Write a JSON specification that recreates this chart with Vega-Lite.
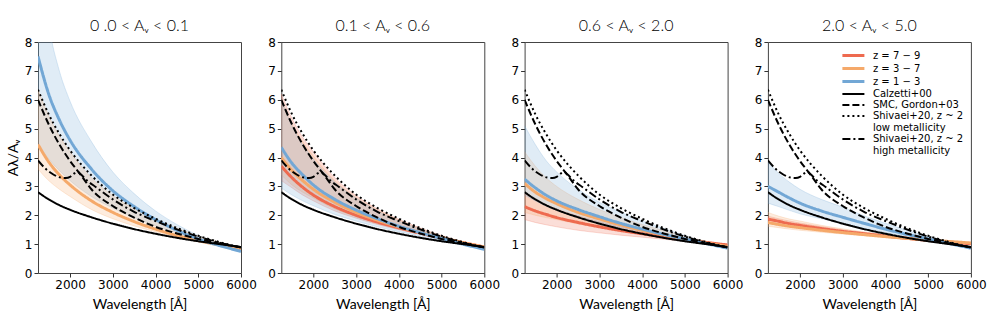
{
"$schema": "https://vega.github.io/schema/vega-lite/v6.json",
"padding": {"top": 17, "left": 5, "right": 5, "bottom": 5},
"datasets": {
"bands": [
{"panel":"p1","series":"z = 1 − 3","x":1250,"lo":4.45,"hi":11.5},
{"panel":"p1","series":"z = 1 − 3","x":1500,"lo":3.95,"hi":8.6},
{"panel":"p1","series":"z = 1 − 3","x":1750,"lo":3.55,"hi":7.0},
{"panel":"p1","series":"z = 1 − 3","x":2000,"lo":3.2,"hi":5.95},
{"panel":"p1","series":"z = 1 − 3","x":2500,"lo":2.65,"hi":4.55},
{"panel":"p1","series":"z = 1 − 3","x":3000,"lo":2.25,"hi":3.5},
{"panel":"p1","series":"z = 1 − 3","x":3500,"lo":1.92,"hi":2.75},
{"panel":"p1","series":"z = 1 − 3","x":4000,"lo":1.64,"hi":2.15},
{"panel":"p1","series":"z = 1 − 3","x":4500,"lo":1.38,"hi":1.68},
{"panel":"p1","series":"z = 1 − 3","x":5000,"lo":1.12,"hi":1.3},
{"panel":"p1","series":"z = 1 − 3","x":5500,"lo":0.92,"hi":1.02},
{"panel":"p1","series":"z = 1 − 3","x":6000,"lo":0.72,"hi":0.8},
{"panel":"p1","series":"z = 3 − 7","x":1250,"lo":3.6,"hi":6.35},
{"panel":"p1","series":"z = 3 − 7","x":1500,"lo":3.2,"hi":5.45},
{"panel":"p1","series":"z = 3 − 7","x":1750,"lo":2.9,"hi":4.75},
{"panel":"p1","series":"z = 3 − 7","x":2000,"lo":2.65,"hi":4.2},
{"panel":"p1","series":"z = 3 − 7","x":2500,"lo":2.2,"hi":3.3},
{"panel":"p1","series":"z = 3 − 7","x":3000,"lo":1.88,"hi":2.68},
{"panel":"p1","series":"z = 3 − 7","x":3500,"lo":1.63,"hi":2.22},
{"panel":"p1","series":"z = 3 − 7","x":4000,"lo":1.43,"hi":1.86},
{"panel":"p1","series":"z = 3 − 7","x":4500,"lo":1.25,"hi":1.55},
{"panel":"p1","series":"z = 3 − 7","x":5000,"lo":1.09,"hi":1.28},
{"panel":"p1","series":"z = 3 − 7","x":5500,"lo":0.95,"hi":1.06},
{"panel":"p1","series":"z = 3 − 7","x":6000,"lo":0.8,"hi":0.87},

{"panel":"p2","series":"z = 7 − 9","x":1250,"lo":3.2,"hi":6.2},
{"panel":"p2","series":"z = 7 − 9","x":1500,"lo":2.95,"hi":5.35},
{"panel":"p2","series":"z = 7 − 9","x":1750,"lo":2.7,"hi":4.7},
{"panel":"p2","series":"z = 7 − 9","x":2000,"lo":2.5,"hi":4.2},
{"panel":"p2","series":"z = 7 − 9","x":2500,"lo":2.15,"hi":3.3},
{"panel":"p2","series":"z = 7 − 9","x":3000,"lo":1.9,"hi":2.68},
{"panel":"p2","series":"z = 7 − 9","x":3500,"lo":1.68,"hi":2.22},
{"panel":"p2","series":"z = 7 − 9","x":4000,"lo":1.5,"hi":1.86},
{"panel":"p2","series":"z = 7 − 9","x":4500,"lo":1.34,"hi":1.56},
{"panel":"p2","series":"z = 7 − 9","x":5000,"lo":1.18,"hi":1.3},
{"panel":"p2","series":"z = 7 − 9","x":5500,"lo":1.03,"hi":1.08},
{"panel":"p2","series":"z = 7 − 9","x":6000,"lo":0.88,"hi":0.91},
{"panel":"p2","series":"z = 3 − 7","x":1250,"lo":3.4,"hi":6.0},
{"panel":"p2","series":"z = 3 − 7","x":1500,"lo":3.05,"hi":5.15},
{"panel":"p2","series":"z = 3 − 7","x":1750,"lo":2.8,"hi":4.55},
{"panel":"p2","series":"z = 3 − 7","x":2000,"lo":2.6,"hi":4.05},
{"panel":"p2","series":"z = 3 − 7","x":2500,"lo":2.22,"hi":3.2},
{"panel":"p2","series":"z = 3 − 7","x":3000,"lo":1.95,"hi":2.62},
{"panel":"p2","series":"z = 3 − 7","x":3500,"lo":1.72,"hi":2.18},
{"panel":"p2","series":"z = 3 − 7","x":4000,"lo":1.53,"hi":1.83},
{"panel":"p2","series":"z = 3 − 7","x":4500,"lo":1.36,"hi":1.54},
{"panel":"p2","series":"z = 3 − 7","x":5000,"lo":1.19,"hi":1.29},
{"panel":"p2","series":"z = 3 − 7","x":5500,"lo":1.04,"hi":1.08},
{"panel":"p2","series":"z = 3 − 7","x":6000,"lo":0.88,"hi":0.9},
{"panel":"p2","series":"z = 1 − 3","x":1250,"lo":2.95,"hi":6.0},
{"panel":"p2","series":"z = 1 − 3","x":1500,"lo":2.7,"hi":5.1},
{"panel":"p2","series":"z = 1 − 3","x":1750,"lo":2.5,"hi":4.45},
{"panel":"p2","series":"z = 1 − 3","x":2000,"lo":2.33,"hi":3.95},
{"panel":"p2","series":"z = 1 − 3","x":2500,"lo":2.03,"hi":3.15},
{"panel":"p2","series":"z = 1 − 3","x":3000,"lo":1.8,"hi":2.6},
{"panel":"p2","series":"z = 1 − 3","x":3500,"lo":1.6,"hi":2.15},
{"panel":"p2","series":"z = 1 − 3","x":4000,"lo":1.43,"hi":1.8},
{"panel":"p2","series":"z = 1 − 3","x":4500,"lo":1.28,"hi":1.52},
{"panel":"p2","series":"z = 1 − 3","x":5000,"lo":1.13,"hi":1.27},
{"panel":"p2","series":"z = 1 − 3","x":5500,"lo":0.98,"hi":1.03},
{"panel":"p2","series":"z = 1 − 3","x":6000,"lo":0.8,"hi":0.85},

{"panel":"p3","series":"z = 7 − 9","x":1250,"lo":1.85,"hi":2.75},
{"panel":"p3","series":"z = 7 − 9","x":1500,"lo":1.75,"hi":2.55},
{"panel":"p3","series":"z = 7 − 9","x":1750,"lo":1.67,"hi":2.37},
{"panel":"p3","series":"z = 7 − 9","x":2000,"lo":1.6,"hi":2.22},
{"panel":"p3","series":"z = 7 − 9","x":2500,"lo":1.48,"hi":1.98},
{"panel":"p3","series":"z = 7 − 9","x":3000,"lo":1.39,"hi":1.78},
{"panel":"p3","series":"z = 7 − 9","x":3500,"lo":1.31,"hi":1.6},
{"panel":"p3","series":"z = 7 − 9","x":4000,"lo":1.24,"hi":1.46},
{"panel":"p3","series":"z = 7 − 9","x":4500,"lo":1.17,"hi":1.33},
{"panel":"p3","series":"z = 7 − 9","x":5000,"lo":1.1,"hi":1.2},
{"panel":"p3","series":"z = 7 − 9","x":5500,"lo":1.03,"hi":1.08},
{"panel":"p3","series":"z = 7 − 9","x":6000,"lo":0.95,"hi":0.99},
{"panel":"p3","series":"z = 3 − 7","x":1250,"lo":2.1,"hi":4.2},
{"panel":"p3","series":"z = 3 − 7","x":1500,"lo":2.0,"hi":3.7},
{"panel":"p3","series":"z = 3 − 7","x":1750,"lo":1.92,"hi":3.3},
{"panel":"p3","series":"z = 3 − 7","x":2000,"lo":1.85,"hi":3.0},
{"panel":"p3","series":"z = 3 − 7","x":2500,"lo":1.7,"hi":2.55},
{"panel":"p3","series":"z = 3 − 7","x":3000,"lo":1.58,"hi":2.2},
{"panel":"p3","series":"z = 3 − 7","x":3500,"lo":1.46,"hi":1.92},
{"panel":"p3","series":"z = 3 − 7","x":4000,"lo":1.35,"hi":1.68},
{"panel":"p3","series":"z = 3 − 7","x":4500,"lo":1.24,"hi":1.47},
{"panel":"p3","series":"z = 3 − 7","x":5000,"lo":1.13,"hi":1.28},
{"panel":"p3","series":"z = 3 − 7","x":5500,"lo":1.03,"hi":1.1},
{"panel":"p3","series":"z = 3 − 7","x":6000,"lo":0.92,"hi":0.96},
{"panel":"p3","series":"z = 1 − 3","x":1250,"lo":2.7,"hi":5.1},
{"panel":"p3","series":"z = 1 − 3","x":1500,"lo":2.5,"hi":4.45},
{"panel":"p3","series":"z = 1 − 3","x":1750,"lo":2.32,"hi":3.9},
{"panel":"p3","series":"z = 1 − 3","x":2000,"lo":2.17,"hi":3.5},
{"panel":"p3","series":"z = 1 − 3","x":2500,"lo":1.93,"hi":2.9},
{"panel":"p3","series":"z = 1 − 3","x":3000,"lo":1.75,"hi":2.45},
{"panel":"p3","series":"z = 1 − 3","x":3500,"lo":1.57,"hi":2.1},
{"panel":"p3","series":"z = 1 − 3","x":4000,"lo":1.42,"hi":1.8},
{"panel":"p3","series":"z = 1 − 3","x":4500,"lo":1.28,"hi":1.55},
{"panel":"p3","series":"z = 1 − 3","x":5000,"lo":1.14,"hi":1.3},
{"panel":"p3","series":"z = 1 − 3","x":5500,"lo":1.0,"hi":1.08},
{"panel":"p3","series":"z = 1 − 3","x":6000,"lo":0.84,"hi":0.88},

{"panel":"p4","series":"z = 7 − 9","x":1250,"lo":1.72,"hi":1.97},
{"panel":"p4","series":"z = 7 − 9","x":1500,"lo":1.66,"hi":1.88},
{"panel":"p4","series":"z = 7 − 9","x":1750,"lo":1.6,"hi":1.8},
{"panel":"p4","series":"z = 7 − 9","x":2000,"lo":1.55,"hi":1.73},
{"panel":"p4","series":"z = 7 − 9","x":2500,"lo":1.46,"hi":1.61},
{"panel":"p4","series":"z = 7 − 9","x":3000,"lo":1.38,"hi":1.5},
{"panel":"p4","series":"z = 7 − 9","x":3500,"lo":1.31,"hi":1.41},
{"panel":"p4","series":"z = 7 − 9","x":4000,"lo":1.24,"hi":1.32},
{"panel":"p4","series":"z = 7 − 9","x":4500,"lo":1.17,"hi":1.23},
{"panel":"p4","series":"z = 7 − 9","x":5000,"lo":1.11,"hi":1.16},
{"panel":"p4","series":"z = 7 − 9","x":5500,"lo":1.05,"hi":1.09},
{"panel":"p4","series":"z = 7 − 9","x":6000,"lo":0.99,"hi":1.03},
{"panel":"p4","series":"z = 3 − 7","x":1250,"lo":1.62,"hi":2.1},
{"panel":"p4","series":"z = 3 − 7","x":1500,"lo":1.57,"hi":1.97},
{"panel":"p4","series":"z = 3 − 7","x":1750,"lo":1.52,"hi":1.87},
{"panel":"p4","series":"z = 3 − 7","x":2000,"lo":1.48,"hi":1.8},
{"panel":"p4","series":"z = 3 − 7","x":2500,"lo":1.41,"hi":1.65},
{"panel":"p4","series":"z = 3 − 7","x":3000,"lo":1.35,"hi":1.53},
{"panel":"p4","series":"z = 3 − 7","x":3500,"lo":1.29,"hi":1.42},
{"panel":"p4","series":"z = 3 − 7","x":4000,"lo":1.23,"hi":1.33},
{"panel":"p4","series":"z = 3 − 7","x":4500,"lo":1.17,"hi":1.25},
{"panel":"p4","series":"z = 3 − 7","x":5000,"lo":1.11,"hi":1.18},
{"panel":"p4","series":"z = 3 − 7","x":5500,"lo":1.06,"hi":1.12},
{"panel":"p4","series":"z = 3 − 7","x":6000,"lo":1.01,"hi":1.07},
{"panel":"p4","series":"z = 1 − 3","x":1250,"lo":2.42,"hi":3.85},
{"panel":"p4","series":"z = 1 − 3","x":1500,"lo":2.3,"hi":3.45},
{"panel":"p4","series":"z = 1 − 3","x":1750,"lo":2.17,"hi":3.15},
{"panel":"p4","series":"z = 1 − 3","x":2000,"lo":2.05,"hi":2.9},
{"panel":"p4","series":"z = 1 − 3","x":2500,"lo":1.88,"hi":2.55},
{"panel":"p4","series":"z = 1 − 3","x":3000,"lo":1.72,"hi":2.28},
{"panel":"p4","series":"z = 1 − 3","x":3500,"lo":1.55,"hi":1.98},
{"panel":"p4","series":"z = 1 − 3","x":4000,"lo":1.4,"hi":1.72},
{"panel":"p4","series":"z = 1 − 3","x":4500,"lo":1.27,"hi":1.48},
{"panel":"p4","series":"z = 1 − 3","x":5000,"lo":1.13,"hi":1.26},
{"panel":"p4","series":"z = 1 − 3","x":5500,"lo":0.99,"hi":1.06},
{"panel":"p4","series":"z = 1 − 3","x":6000,"lo":0.84,"hi":0.88}
],
"lines": [
{"panel":"p1","series":"z = 3 − 7","x":1250,"y":4.45},
{"panel":"p1","series":"z = 3 − 7","x":1500,"y":3.85},
{"panel":"p1","series":"z = 3 − 7","x":1750,"y":3.4},
{"panel":"p1","series":"z = 3 − 7","x":2000,"y":3.05},
{"panel":"p1","series":"z = 3 − 7","x":2500,"y":2.5},
{"panel":"p1","series":"z = 3 − 7","x":3000,"y":2.1},
{"panel":"p1","series":"z = 3 − 7","x":3500,"y":1.78},
{"panel":"p1","series":"z = 3 − 7","x":4000,"y":1.52},
{"panel":"p1","series":"z = 3 − 7","x":4500,"y":1.3},
{"panel":"p1","series":"z = 3 − 7","x":5000,"y":1.12},
{"panel":"p1","series":"z = 3 − 7","x":5500,"y":0.97},
{"panel":"p1","series":"z = 3 − 7","x":6000,"y":0.83},
{"panel":"p1","series":"z = 1 − 3","x":1250,"y":7.5},
{"panel":"p1","series":"z = 1 − 3","x":1500,"y":6.2},
{"panel":"p1","series":"z = 1 − 3","x":1750,"y":5.3},
{"panel":"p1","series":"z = 1 − 3","x":2000,"y":4.6},
{"panel":"p1","series":"z = 1 − 3","x":2500,"y":3.6},
{"panel":"p1","series":"z = 1 − 3","x":3000,"y":2.85},
{"panel":"p1","series":"z = 1 − 3","x":3500,"y":2.3},
{"panel":"p1","series":"z = 1 − 3","x":4000,"y":1.85},
{"panel":"p1","series":"z = 1 − 3","x":4500,"y":1.48},
{"panel":"p1","series":"z = 1 − 3","x":5000,"y":1.18},
{"panel":"p1","series":"z = 1 − 3","x":5500,"y":0.95},
{"panel":"p1","series":"z = 1 − 3","x":6000,"y":0.75},

{"panel":"p2","series":"z = 7 − 9","x":1250,"y":3.7},
{"panel":"p2","series":"z = 7 − 9","x":1500,"y":3.3},
{"panel":"p2","series":"z = 7 − 9","x":1750,"y":2.97},
{"panel":"p2","series":"z = 7 − 9","x":2000,"y":2.7},
{"panel":"p2","series":"z = 7 − 9","x":2500,"y":2.3},
{"panel":"p2","series":"z = 7 − 9","x":3000,"y":2.0},
{"panel":"p2","series":"z = 7 − 9","x":3500,"y":1.76},
{"panel":"p2","series":"z = 7 − 9","x":4000,"y":1.56},
{"panel":"p2","series":"z = 7 − 9","x":4500,"y":1.38},
{"panel":"p2","series":"z = 7 − 9","x":5000,"y":1.21},
{"panel":"p2","series":"z = 7 − 9","x":5500,"y":1.05},
{"panel":"p2","series":"z = 7 − 9","x":6000,"y":0.9},
{"panel":"p2","series":"z = 3 − 7","x":1250,"y":4.0},
{"panel":"p2","series":"z = 3 − 7","x":1500,"y":3.55},
{"panel":"p2","series":"z = 3 − 7","x":1750,"y":3.2},
{"panel":"p2","series":"z = 3 − 7","x":2000,"y":2.9},
{"panel":"p2","series":"z = 3 − 7","x":2500,"y":2.45},
{"panel":"p2","series":"z = 3 − 7","x":3000,"y":2.1},
{"panel":"p2","series":"z = 3 − 7","x":3500,"y":1.83},
{"panel":"p2","series":"z = 3 − 7","x":4000,"y":1.6},
{"panel":"p2","series":"z = 3 − 7","x":4500,"y":1.4},
{"panel":"p2","series":"z = 3 − 7","x":5000,"y":1.22},
{"panel":"p2","series":"z = 3 − 7","x":5500,"y":1.05},
{"panel":"p2","series":"z = 3 − 7","x":6000,"y":0.9},
{"panel":"p2","series":"z = 1 − 3","x":1250,"y":4.35},
{"panel":"p2","series":"z = 1 − 3","x":1500,"y":3.8},
{"panel":"p2","series":"z = 1 − 3","x":1750,"y":3.4},
{"panel":"p2","series":"z = 1 − 3","x":2000,"y":3.05},
{"panel":"p2","series":"z = 1 − 3","x":2500,"y":2.55},
{"panel":"p2","series":"z = 1 − 3","x":3000,"y":2.18},
{"panel":"p2","series":"z = 1 − 3","x":3500,"y":1.88},
{"panel":"p2","series":"z = 1 − 3","x":4000,"y":1.62},
{"panel":"p2","series":"z = 1 − 3","x":4500,"y":1.4},
{"panel":"p2","series":"z = 1 − 3","x":5000,"y":1.2},
{"panel":"p2","series":"z = 1 − 3","x":5500,"y":1.0},
{"panel":"p2","series":"z = 1 − 3","x":6000,"y":0.82},

{"panel":"p3","series":"z = 7 − 9","x":1250,"y":2.3},
{"panel":"p3","series":"z = 7 − 9","x":1500,"y":2.15},
{"panel":"p3","series":"z = 7 − 9","x":1750,"y":2.03},
{"panel":"p3","series":"z = 7 − 9","x":2000,"y":1.92},
{"panel":"p3","series":"z = 7 − 9","x":2500,"y":1.75},
{"panel":"p3","series":"z = 7 − 9","x":3000,"y":1.6},
{"panel":"p3","series":"z = 7 − 9","x":3500,"y":1.47},
{"panel":"p3","series":"z = 7 − 9","x":4000,"y":1.36},
{"panel":"p3","series":"z = 7 − 9","x":4500,"y":1.25},
{"panel":"p3","series":"z = 7 − 9","x":5000,"y":1.15},
{"panel":"p3","series":"z = 7 − 9","x":5500,"y":1.06},
{"panel":"p3","series":"z = 7 − 9","x":6000,"y":0.97},
{"panel":"p3","series":"z = 3 − 7","x":1250,"y":3.1},
{"panel":"p3","series":"z = 3 − 7","x":1500,"y":2.8},
{"panel":"p3","series":"z = 3 − 7","x":1750,"y":2.58},
{"panel":"p3","series":"z = 3 − 7","x":2000,"y":2.4},
{"panel":"p3","series":"z = 3 − 7","x":2500,"y":2.1},
{"panel":"p3","series":"z = 3 − 7","x":3000,"y":1.87},
{"panel":"p3","series":"z = 3 − 7","x":3500,"y":1.66},
{"panel":"p3","series":"z = 3 − 7","x":4000,"y":1.48},
{"panel":"p3","series":"z = 3 − 7","x":4500,"y":1.32},
{"panel":"p3","series":"z = 3 − 7","x":5000,"y":1.17},
{"panel":"p3","series":"z = 3 − 7","x":5500,"y":1.04},
{"panel":"p3","series":"z = 3 − 7","x":6000,"y":0.92},
{"panel":"p3","series":"z = 1 − 3","x":1250,"y":3.25},
{"panel":"p3","series":"z = 1 − 3","x":1500,"y":2.95},
{"panel":"p3","series":"z = 1 − 3","x":1750,"y":2.7},
{"panel":"p3","series":"z = 1 − 3","x":2000,"y":2.5},
{"panel":"p3","series":"z = 1 − 3","x":2500,"y":2.2},
{"panel":"p3","series":"z = 1 − 3","x":3000,"y":1.95},
{"panel":"p3","series":"z = 1 − 3","x":3500,"y":1.72},
{"panel":"p3","series":"z = 1 − 3","x":4000,"y":1.52},
{"panel":"p3","series":"z = 1 − 3","x":4500,"y":1.34},
{"panel":"p3","series":"z = 1 − 3","x":5000,"y":1.18},
{"panel":"p3","series":"z = 1 − 3","x":5500,"y":1.02},
{"panel":"p3","series":"z = 1 − 3","x":6000,"y":0.86},

{"panel":"p4","series":"z = 7 − 9","x":1250,"y":1.87},
{"panel":"p4","series":"z = 7 − 9","x":1500,"y":1.79},
{"panel":"p4","series":"z = 7 − 9","x":1750,"y":1.71},
{"panel":"p4","series":"z = 7 − 9","x":2000,"y":1.65},
{"panel":"p4","series":"z = 7 − 9","x":2500,"y":1.54},
{"panel":"p4","series":"z = 7 − 9","x":3000,"y":1.44},
{"panel":"p4","series":"z = 7 − 9","x":3500,"y":1.36},
{"panel":"p4","series":"z = 7 − 9","x":4000,"y":1.28},
{"panel":"p4","series":"z = 7 − 9","x":4500,"y":1.2},
{"panel":"p4","series":"z = 7 − 9","x":5000,"y":1.13},
{"panel":"p4","series":"z = 7 − 9","x":5500,"y":1.07},
{"panel":"p4","series":"z = 7 − 9","x":6000,"y":1.01},
{"panel":"p4","series":"z = 3 − 7","x":1250,"y":1.75},
{"panel":"p4","series":"z = 3 − 7","x":1500,"y":1.68},
{"panel":"p4","series":"z = 3 − 7","x":1750,"y":1.62},
{"panel":"p4","series":"z = 3 − 7","x":2000,"y":1.57},
{"panel":"p4","series":"z = 3 − 7","x":2500,"y":1.48},
{"panel":"p4","series":"z = 3 − 7","x":3000,"y":1.4},
{"panel":"p4","series":"z = 3 − 7","x":3500,"y":1.33},
{"panel":"p4","series":"z = 3 − 7","x":4000,"y":1.26},
{"panel":"p4","series":"z = 3 − 7","x":4500,"y":1.2},
{"panel":"p4","series":"z = 3 − 7","x":5000,"y":1.14},
{"panel":"p4","series":"z = 3 − 7","x":5500,"y":1.09},
{"panel":"p4","series":"z = 3 − 7","x":6000,"y":1.04},
{"panel":"p4","series":"z = 1 − 3","x":1250,"y":3.0},
{"panel":"p4","series":"z = 1 − 3","x":1500,"y":2.8},
{"panel":"p4","series":"z = 1 − 3","x":1750,"y":2.6},
{"panel":"p4","series":"z = 1 − 3","x":2000,"y":2.42},
{"panel":"p4","series":"z = 1 − 3","x":2500,"y":2.15},
{"panel":"p4","series":"z = 1 − 3","x":3000,"y":1.93},
{"panel":"p4","series":"z = 1 − 3","x":3500,"y":1.72},
{"panel":"p4","series":"z = 1 − 3","x":4000,"y":1.52},
{"panel":"p4","series":"z = 1 − 3","x":4500,"y":1.34},
{"panel":"p4","series":"z = 1 − 3","x":5000,"y":1.18},
{"panel":"p4","series":"z = 1 − 3","x":5500,"y":1.02},
{"panel":"p4","series":"z = 1 − 3","x":6000,"y":0.86}
],
"ref": [
{"series":"Calzetti+00","x":1250,"y":2.8},
{"series":"Calzetti+00","x":1500,"y":2.55},
{"series":"Calzetti+00","x":1750,"y":2.35},
{"series":"Calzetti+00","x":2000,"y":2.19},
{"series":"Calzetti+00","x":2500,"y":1.93},
{"series":"Calzetti+00","x":3000,"y":1.71},
{"series":"Calzetti+00","x":3500,"y":1.52},
{"series":"Calzetti+00","x":4000,"y":1.36},
{"series":"Calzetti+00","x":4500,"y":1.22},
{"series":"Calzetti+00","x":5000,"y":1.1},
{"series":"Calzetti+00","x":5500,"y":1.0},
{"series":"Calzetti+00","x":6000,"y":0.9},
{"series":"SMC, Gordon+03","x":1250,"y":6.0},
{"series":"SMC, Gordon+03","x":1500,"y":5.15},
{"series":"SMC, Gordon+03","x":1750,"y":4.45},
{"series":"SMC, Gordon+03","x":2000,"y":3.88},
{"series":"SMC, Gordon+03","x":2250,"y":3.4},
{"series":"SMC, Gordon+03","x":2500,"y":2.9},
{"series":"SMC, Gordon+03","x":3000,"y":2.32},
{"series":"SMC, Gordon+03","x":3500,"y":1.92},
{"series":"SMC, Gordon+03","x":4000,"y":1.6},
{"series":"SMC, Gordon+03","x":4500,"y":1.37},
{"series":"SMC, Gordon+03","x":5000,"y":1.18},
{"series":"SMC, Gordon+03","x":5500,"y":1.02},
{"series":"SMC, Gordon+03","x":6000,"y":0.89},
{"series":"Shivaei+20, z ~ 2| low metallicity","x":1250,"y":6.35},
{"series":"Shivaei+20, z ~ 2| low metallicity","x":1500,"y":5.5},
{"series":"Shivaei+20, z ~ 2| low metallicity","x":1750,"y":4.82},
{"series":"Shivaei+20, z ~ 2| low metallicity","x":2000,"y":4.25},
{"series":"Shivaei+20, z ~ 2| low metallicity","x":2250,"y":3.78},
{"series":"Shivaei+20, z ~ 2| low metallicity","x":2500,"y":3.38},
{"series":"Shivaei+20, z ~ 2| low metallicity","x":3000,"y":2.72},
{"series":"Shivaei+20, z ~ 2| low metallicity","x":3500,"y":2.25},
{"series":"Shivaei+20, z ~ 2| low metallicity","x":4000,"y":1.88},
{"series":"Shivaei+20, z ~ 2| low metallicity","x":4500,"y":1.56},
{"series":"Shivaei+20, z ~ 2| low metallicity","x":5000,"y":1.29},
{"series":"Shivaei+20, z ~ 2| low metallicity","x":5500,"y":1.07},
{"series":"Shivaei+20, z ~ 2| low metallicity","x":6000,"y":0.88},
{"series":"Shivaei+20, z ~ 2| high metallicity","x":1250,"y":3.9},
{"series":"Shivaei+20, z ~ 2| high metallicity","x":1400,"y":3.65},
{"series":"Shivaei+20, z ~ 2| high metallicity","x":1600,"y":3.42},
{"series":"Shivaei+20, z ~ 2| high metallicity","x":1800,"y":3.3},
{"series":"Shivaei+20, z ~ 2| high metallicity","x":1900,"y":3.29},
{"series":"Shivaei+20, z ~ 2| high metallicity","x":2000,"y":3.33},
{"series":"Shivaei+20, z ~ 2| high metallicity","x":2100,"y":3.45},
{"series":"Shivaei+20, z ~ 2| high metallicity","x":2175,"y":3.5},
{"series":"Shivaei+20, z ~ 2| high metallicity","x":2250,"y":3.42},
{"series":"Shivaei+20, z ~ 2| high metallicity","x":2400,"y":3.2},
{"series":"Shivaei+20, z ~ 2| high metallicity","x":2600,"y":2.98},
{"series":"Shivaei+20, z ~ 2| high metallicity","x":3000,"y":2.55},
{"series":"Shivaei+20, z ~ 2| high metallicity","x":3500,"y":2.12},
{"series":"Shivaei+20, z ~ 2| high metallicity","x":4000,"y":1.8},
{"series":"Shivaei+20, z ~ 2| high metallicity","x":4500,"y":1.51},
{"series":"Shivaei+20, z ~ 2| high metallicity","x":5000,"y":1.26},
{"series":"Shivaei+20, z ~ 2| high metallicity","x":5500,"y":1.05},
{"series":"Shivaei+20, z ~ 2| high metallicity","x":6000,"y":0.88}
]
},
"hconcat": [
{"width":203,"height":231,"title":"0 .0 < Aᵥ < 0.1",
 "layer":[
  {"data":{"name":"bands"},"transform":[{"filter":"datum.panel == 'p1'"}],
   "mark":{"type":"area","fillOpacity":0.22,"strokeOpacity":0.3,"strokeWidth":0.8,"clip":true,"interpolate":"monotone"},
   "encoding":{
    "x":{"field":"x","type":"quantitative","scale":{"domain":[1250,6000],"nice":false,"zero":false},"axis":{"title":"Wavelength [Å]","values":[2000,3000,4000,5000,6000],"format":"d"}},
    "y":{"field":"lo","type":"quantitative","scale":{"domain":[0,8],"nice":false},"axis":{"title":"Aλ/Aᵥ","values":[0,1,2,3,4,5,6,7,8]}},
    "y2":{"field":"hi"},
    "fill":{"field":"series","type":"nominal","scale":{"domain":["z = 7 − 9","z = 3 − 7","z = 1 − 3"],"range":["#ee6a4f","#f5a96a","#72a7d5"]},"legend":null},
    "stroke":{"field":"series","type":"nominal","scale":{"domain":["z = 7 − 9","z = 3 − 7","z = 1 − 3"],"range":["#ee6a4f","#f5a96a","#72a7d5"]},"legend":null}}},
  {"data":{"name":"lines"},"transform":[{"filter":"datum.panel == 'p1'"}],
   "mark":{"type":"line","interpolate":"monotone","clip":true},
   "encoding":{
    "x":{"field":"x","type":"quantitative","scale":{"domain":[1250,6000],"nice":false,"zero":false},"axis":{"title":"Wavelength [Å]","values":[2000,3000,4000,5000,6000],"format":"d"}},
    "y":{"field":"y","type":"quantitative","scale":{"domain":[0,8],"nice":false},"axis":{"title":"Aλ/Aᵥ","values":[0,1,2,3,4,5,6,7,8]}},
    "color":{"field":"series","type":"nominal","scale":{"domain":["z = 7 − 9","z = 3 − 7","z = 1 − 3","Calzetti+00","SMC, Gordon+03","Shivaei+20, z ~ 2| low metallicity","Shivaei+20, z ~ 2| high metallicity"],"range":["#ee6a4f","#f5a96a","#72a7d5","#000000","#000000","#000000","#000000"]},"legend":null},
    "strokeDash":{"field":"series","type":"nominal","scale":{"domain":["z = 7 − 9","z = 3 − 7","z = 1 − 3","Calzetti+00","SMC, Gordon+03","Shivaei+20, z ~ 2| low metallicity","Shivaei+20, z ~ 2| high metallicity"],"range":[[1,0],[1,0],[1,0],[1,0],[7,3],[2,3],[8,3,2,3]]},"legend":null},
    "strokeWidth":{"field":"series","type":"ordinal","scale":{"type":"ordinal","domain":["z = 7 − 9","z = 3 − 7","z = 1 − 3","Calzetti+00","SMC, Gordon+03","Shivaei+20, z ~ 2| low metallicity","Shivaei+20, z ~ 2| high metallicity"],"range":[3,3,3,2,2,2,2]},"legend":null}}},
  {"data":{"name":"ref"},
   "mark":{"type":"line","interpolate":"monotone","clip":true},
   "encoding":{
    "x":{"field":"x","type":"quantitative","scale":{"domain":[1250,6000],"nice":false,"zero":false},"axis":{"title":"Wavelength [Å]","values":[2000,3000,4000,5000,6000],"format":"d"}},
    "y":{"field":"y","type":"quantitative","scale":{"domain":[0,8],"nice":false},"axis":{"title":"Aλ/Aᵥ","values":[0,1,2,3,4,5,6,7,8]}},
    "color":{"field":"series","type":"nominal","scale":{"domain":["z = 7 − 9","z = 3 − 7","z = 1 − 3","Calzetti+00","SMC, Gordon+03","Shivaei+20, z ~ 2| low metallicity","Shivaei+20, z ~ 2| high metallicity"],"range":["#ee6a4f","#f5a96a","#72a7d5","#000000","#000000","#000000","#000000"]},"legend":null},
    "strokeDash":{"field":"series","type":"nominal","scale":{"domain":["z = 7 − 9","z = 3 − 7","z = 1 − 3","Calzetti+00","SMC, Gordon+03","Shivaei+20, z ~ 2| low metallicity","Shivaei+20, z ~ 2| high metallicity"],"range":[[1,0],[1,0],[1,0],[1,0],[7,3],[2,3],[8,3,2,3]]},"legend":null},
    "strokeWidth":{"field":"series","type":"ordinal","scale":{"type":"ordinal","domain":["z = 7 − 9","z = 3 − 7","z = 1 − 3","Calzetti+00","SMC, Gordon+03","Shivaei+20, z ~ 2| low metallicity","Shivaei+20, z ~ 2| high metallicity"],"range":[3,3,3,2,2,2,2]},"legend":null}}}
 ]},
{"width":203,"height":231,"title":"0.1 < Aᵥ < 0.6",
 "layer":[
  {"data":{"name":"bands"},"transform":[{"filter":"datum.panel == 'p2'"}],
   "mark":{"type":"area","fillOpacity":0.22,"strokeOpacity":0.3,"strokeWidth":0.8,"clip":true,"interpolate":"monotone"},
   "encoding":{
    "x":{"field":"x","type":"quantitative","scale":{"domain":[1250,6000],"nice":false,"zero":false},"axis":{"title":"Wavelength [Å]","values":[2000,3000,4000,5000,6000],"format":"d"}},
    "y":{"field":"lo","type":"quantitative","scale":{"domain":[0,8],"nice":false},"axis":{"title":null,"values":[0,1,2,3,4,5,6,7,8]}},
    "y2":{"field":"hi"},
    "fill":{"field":"series","type":"nominal","scale":{"domain":["z = 7 − 9","z = 3 − 7","z = 1 − 3"],"range":["#ee6a4f","#f5a96a","#72a7d5"]},"legend":null},
    "stroke":{"field":"series","type":"nominal","scale":{"domain":["z = 7 − 9","z = 3 − 7","z = 1 − 3"],"range":["#ee6a4f","#f5a96a","#72a7d5"]},"legend":null}}},
  {"data":{"name":"lines"},"transform":[{"filter":"datum.panel == 'p2'"}],
   "mark":{"type":"line","interpolate":"monotone","clip":true},
   "encoding":{
    "x":{"field":"x","type":"quantitative","scale":{"domain":[1250,6000],"nice":false,"zero":false},"axis":{"title":"Wavelength [Å]","values":[2000,3000,4000,5000,6000],"format":"d"}},
    "y":{"field":"y","type":"quantitative","scale":{"domain":[0,8],"nice":false},"axis":{"title":null,"values":[0,1,2,3,4,5,6,7,8]}},
    "color":{"field":"series","type":"nominal","scale":{"domain":["z = 7 − 9","z = 3 − 7","z = 1 − 3","Calzetti+00","SMC, Gordon+03","Shivaei+20, z ~ 2| low metallicity","Shivaei+20, z ~ 2| high metallicity"],"range":["#ee6a4f","#f5a96a","#72a7d5","#000000","#000000","#000000","#000000"]},"legend":null},
    "strokeDash":{"field":"series","type":"nominal","scale":{"domain":["z = 7 − 9","z = 3 − 7","z = 1 − 3","Calzetti+00","SMC, Gordon+03","Shivaei+20, z ~ 2| low metallicity","Shivaei+20, z ~ 2| high metallicity"],"range":[[1,0],[1,0],[1,0],[1,0],[7,3],[2,3],[8,3,2,3]]},"legend":null},
    "strokeWidth":{"field":"series","type":"ordinal","scale":{"type":"ordinal","domain":["z = 7 − 9","z = 3 − 7","z = 1 − 3","Calzetti+00","SMC, Gordon+03","Shivaei+20, z ~ 2| low metallicity","Shivaei+20, z ~ 2| high metallicity"],"range":[3,3,3,2,2,2,2]},"legend":null}}},
  {"data":{"name":"ref"},
   "mark":{"type":"line","interpolate":"monotone","clip":true},
   "encoding":{
    "x":{"field":"x","type":"quantitative","scale":{"domain":[1250,6000],"nice":false,"zero":false},"axis":{"title":"Wavelength [Å]","values":[2000,3000,4000,5000,6000],"format":"d"}},
    "y":{"field":"y","type":"quantitative","scale":{"domain":[0,8],"nice":false},"axis":{"title":null,"values":[0,1,2,3,4,5,6,7,8]}},
    "color":{"field":"series","type":"nominal","scale":{"domain":["z = 7 − 9","z = 3 − 7","z = 1 − 3","Calzetti+00","SMC, Gordon+03","Shivaei+20, z ~ 2| low metallicity","Shivaei+20, z ~ 2| high metallicity"],"range":["#ee6a4f","#f5a96a","#72a7d5","#000000","#000000","#000000","#000000"]},"legend":null},
    "strokeDash":{"field":"series","type":"nominal","scale":{"domain":["z = 7 − 9","z = 3 − 7","z = 1 − 3","Calzetti+00","SMC, Gordon+03","Shivaei+20, z ~ 2| low metallicity","Shivaei+20, z ~ 2| high metallicity"],"range":[[1,0],[1,0],[1,0],[1,0],[7,3],[2,3],[8,3,2,3]]},"legend":null},
    "strokeWidth":{"field":"series","type":"ordinal","scale":{"type":"ordinal","domain":["z = 7 − 9","z = 3 − 7","z = 1 − 3","Calzetti+00","SMC, Gordon+03","Shivaei+20, z ~ 2| low metallicity","Shivaei+20, z ~ 2| high metallicity"],"range":[3,3,3,2,2,2,2]},"legend":null}}}
 ]},
{"width":203,"height":231,"title":"0.6 < Aᵥ < 2.0",
 "layer":[
  {"data":{"name":"bands"},"transform":[{"filter":"datum.panel == 'p3'"}],
   "mark":{"type":"area","fillOpacity":0.22,"strokeOpacity":0.3,"strokeWidth":0.8,"clip":true,"interpolate":"monotone"},
   "encoding":{
    "x":{"field":"x","type":"quantitative","scale":{"domain":[1250,6000],"nice":false,"zero":false},"axis":{"title":"Wavelength [Å]","values":[2000,3000,4000,5000,6000],"format":"d"}},
    "y":{"field":"lo","type":"quantitative","scale":{"domain":[0,8],"nice":false},"axis":{"title":null,"values":[0,1,2,3,4,5,6,7,8]}},
    "y2":{"field":"hi"},
    "fill":{"field":"series","type":"nominal","scale":{"domain":["z = 7 − 9","z = 3 − 7","z = 1 − 3"],"range":["#ee6a4f","#f5a96a","#72a7d5"]},"legend":null},
    "stroke":{"field":"series","type":"nominal","scale":{"domain":["z = 7 − 9","z = 3 − 7","z = 1 − 3"],"range":["#ee6a4f","#f5a96a","#72a7d5"]},"legend":null}}},
  {"data":{"name":"lines"},"transform":[{"filter":"datum.panel == 'p3'"}],
   "mark":{"type":"line","interpolate":"monotone","clip":true},
   "encoding":{
    "x":{"field":"x","type":"quantitative","scale":{"domain":[1250,6000],"nice":false,"zero":false},"axis":{"title":"Wavelength [Å]","values":[2000,3000,4000,5000,6000],"format":"d"}},
    "y":{"field":"y","type":"quantitative","scale":{"domain":[0,8],"nice":false},"axis":{"title":null,"values":[0,1,2,3,4,5,6,7,8]}},
    "color":{"field":"series","type":"nominal","scale":{"domain":["z = 7 − 9","z = 3 − 7","z = 1 − 3","Calzetti+00","SMC, Gordon+03","Shivaei+20, z ~ 2| low metallicity","Shivaei+20, z ~ 2| high metallicity"],"range":["#ee6a4f","#f5a96a","#72a7d5","#000000","#000000","#000000","#000000"]},"legend":null},
    "strokeDash":{"field":"series","type":"nominal","scale":{"domain":["z = 7 − 9","z = 3 − 7","z = 1 − 3","Calzetti+00","SMC, Gordon+03","Shivaei+20, z ~ 2| low metallicity","Shivaei+20, z ~ 2| high metallicity"],"range":[[1,0],[1,0],[1,0],[1,0],[7,3],[2,3],[8,3,2,3]]},"legend":null},
    "strokeWidth":{"field":"series","type":"ordinal","scale":{"type":"ordinal","domain":["z = 7 − 9","z = 3 − 7","z = 1 − 3","Calzetti+00","SMC, Gordon+03","Shivaei+20, z ~ 2| low metallicity","Shivaei+20, z ~ 2| high metallicity"],"range":[3,3,3,2,2,2,2]},"legend":null}}},
  {"data":{"name":"ref"},
   "mark":{"type":"line","interpolate":"monotone","clip":true},
   "encoding":{
    "x":{"field":"x","type":"quantitative","scale":{"domain":[1250,6000],"nice":false,"zero":false},"axis":{"title":"Wavelength [Å]","values":[2000,3000,4000,5000,6000],"format":"d"}},
    "y":{"field":"y","type":"quantitative","scale":{"domain":[0,8],"nice":false},"axis":{"title":null,"values":[0,1,2,3,4,5,6,7,8]}},
    "color":{"field":"series","type":"nominal","scale":{"domain":["z = 7 − 9","z = 3 − 7","z = 1 − 3","Calzetti+00","SMC, Gordon+03","Shivaei+20, z ~ 2| low metallicity","Shivaei+20, z ~ 2| high metallicity"],"range":["#ee6a4f","#f5a96a","#72a7d5","#000000","#000000","#000000","#000000"]},"legend":null},
    "strokeDash":{"field":"series","type":"nominal","scale":{"domain":["z = 7 − 9","z = 3 − 7","z = 1 − 3","Calzetti+00","SMC, Gordon+03","Shivaei+20, z ~ 2| low metallicity","Shivaei+20, z ~ 2| high metallicity"],"range":[[1,0],[1,0],[1,0],[1,0],[7,3],[2,3],[8,3,2,3]]},"legend":null},
    "strokeWidth":{"field":"series","type":"ordinal","scale":{"type":"ordinal","domain":["z = 7 − 9","z = 3 − 7","z = 1 − 3","Calzetti+00","SMC, Gordon+03","Shivaei+20, z ~ 2| low metallicity","Shivaei+20, z ~ 2| high metallicity"],"range":[3,3,3,2,2,2,2]},"legend":null}}}
 ]},
{"width":203,"height":231,"title":"2.0 < Aᵥ < 5.0",
 "layer":[
  {"data":{"name":"bands"},"transform":[{"filter":"datum.panel == 'p4'"}],
   "mark":{"type":"area","fillOpacity":0.22,"strokeOpacity":0.3,"strokeWidth":0.8,"clip":true,"interpolate":"monotone"},
   "encoding":{
    "x":{"field":"x","type":"quantitative","scale":{"domain":[1250,6000],"nice":false,"zero":false},"axis":{"title":"Wavelength [Å]","values":[2000,3000,4000,5000,6000],"format":"d"}},
    "y":{"field":"lo","type":"quantitative","scale":{"domain":[0,8],"nice":false},"axis":{"title":null,"values":[0,1,2,3,4,5,6,7,8]}},
    "y2":{"field":"hi"},
    "fill":{"field":"series","type":"nominal","scale":{"domain":["z = 7 − 9","z = 3 − 7","z = 1 − 3"],"range":["#ee6a4f","#f5a96a","#72a7d5"]},"legend":null},
    "stroke":{"field":"series","type":"nominal","scale":{"domain":["z = 7 − 9","z = 3 − 7","z = 1 − 3"],"range":["#ee6a4f","#f5a96a","#72a7d5"]},"legend":null}}},
  {"data":{"name":"lines"},"transform":[{"filter":"datum.panel == 'p4'"}],
   "mark":{"type":"line","interpolate":"monotone","clip":true},
   "encoding":{
    "x":{"field":"x","type":"quantitative","scale":{"domain":[1250,6000],"nice":false,"zero":false},"axis":{"title":"Wavelength [Å]","values":[2000,3000,4000,5000,6000],"format":"d"}},
    "y":{"field":"y","type":"quantitative","scale":{"domain":[0,8],"nice":false},"axis":{"title":null,"values":[0,1,2,3,4,5,6,7,8]}},
    "color":{"field":"series","type":"nominal","scale":{"domain":["z = 7 − 9","z = 3 − 7","z = 1 − 3","Calzetti+00","SMC, Gordon+03","Shivaei+20, z ~ 2| low metallicity","Shivaei+20, z ~ 2| high metallicity"],"range":["#ee6a4f","#f5a96a","#72a7d5","#000000","#000000","#000000","#000000"]},
      "legend":{"orient":"top-right","offset":7,"padding":0,"title":null,"symbolType":"M-2.2,0H2.2","symbolSize":100,"labelFont":"DejaVu Sans","labelFontSize":10,"labelColor":"#000","rowPadding":0,"labelOffset":13,"labelLimit":200,"labelExpr":"split(datum.label, '|')"}},
    "strokeDash":{"field":"series","type":"nominal","scale":{"domain":["z = 7 − 9","z = 3 − 7","z = 1 − 3","Calzetti+00","SMC, Gordon+03","Shivaei+20, z ~ 2| low metallicity","Shivaei+20, z ~ 2| high metallicity"],"range":[[1,0],[1,0],[1,0],[1,0],[7,3],[2,3],[8,3,2,3]]},
      "legend":{"orient":"top-right","offset":7,"padding":0,"title":null,"symbolType":"M-2.2,0H2.2","symbolSize":100,"labelFont":"DejaVu Sans","labelFontSize":10,"labelColor":"#000","rowPadding":0,"labelOffset":13,"labelLimit":200,"labelExpr":"split(datum.label, '|')"}},
    "strokeWidth":{"field":"series","type":"ordinal","scale":{"type":"ordinal","domain":["z = 7 − 9","z = 3 − 7","z = 1 − 3","Calzetti+00","SMC, Gordon+03","Shivaei+20, z ~ 2| low metallicity","Shivaei+20, z ~ 2| high metallicity"],"range":[3,3,3,2,2,2,2]},
      "legend":{"orient":"top-right","offset":7,"padding":0,"title":null,"symbolType":"M-2.2,0H2.2","symbolSize":100,"labelFont":"DejaVu Sans","labelFontSize":10,"labelColor":"#000","rowPadding":0,"labelOffset":13,"labelLimit":200,"labelExpr":"split(datum.label, '|')"}}}},
  {"data":{"name":"ref"},
   "mark":{"type":"line","interpolate":"monotone","clip":true},
   "encoding":{
    "x":{"field":"x","type":"quantitative","scale":{"domain":[1250,6000],"nice":false,"zero":false},"axis":{"title":"Wavelength [Å]","values":[2000,3000,4000,5000,6000],"format":"d"}},
    "y":{"field":"y","type":"quantitative","scale":{"domain":[0,8],"nice":false},"axis":{"title":null,"values":[0,1,2,3,4,5,6,7,8]}},
    "color":{"field":"series","type":"nominal","scale":{"domain":["z = 7 − 9","z = 3 − 7","z = 1 − 3","Calzetti+00","SMC, Gordon+03","Shivaei+20, z ~ 2| low metallicity","Shivaei+20, z ~ 2| high metallicity"],"range":["#ee6a4f","#f5a96a","#72a7d5","#000000","#000000","#000000","#000000"]},
      "legend":{"orient":"top-right","offset":7,"padding":0,"title":null,"symbolType":"M-2.2,0H2.2","symbolSize":100,"labelFont":"DejaVu Sans","labelFontSize":10,"labelColor":"#000","rowPadding":0,"labelOffset":13,"labelLimit":200,"labelExpr":"split(datum.label, '|')"}},
    "strokeDash":{"field":"series","type":"nominal","scale":{"domain":["z = 7 − 9","z = 3 − 7","z = 1 − 3","Calzetti+00","SMC, Gordon+03","Shivaei+20, z ~ 2| low metallicity","Shivaei+20, z ~ 2| high metallicity"],"range":[[1,0],[1,0],[1,0],[1,0],[7,3],[2,3],[8,3,2,3]]},
      "legend":{"orient":"top-right","offset":7,"padding":0,"title":null,"symbolType":"M-2.2,0H2.2","symbolSize":100,"labelFont":"DejaVu Sans","labelFontSize":10,"labelColor":"#000","rowPadding":0,"labelOffset":13,"labelLimit":200,"labelExpr":"split(datum.label, '|')"}},
    "strokeWidth":{"field":"series","type":"ordinal","scale":{"type":"ordinal","domain":["z = 7 − 9","z = 3 − 7","z = 1 − 3","Calzetti+00","SMC, Gordon+03","Shivaei+20, z ~ 2| low metallicity","Shivaei+20, z ~ 2| high metallicity"],"range":[3,3,3,2,2,2,2]},
      "legend":{"orient":"top-right","offset":7,"padding":0,"title":null,"symbolType":"M-2.2,0H2.2","symbolSize":100,"labelFont":"DejaVu Sans","labelFontSize":10,"labelColor":"#000","rowPadding":0,"labelOffset":13,"labelLimit":200,"labelExpr":"split(datum.label, '|')"}}}}
 ]}
],
"spacing": 40.3,
"bounds": "flush",
"resolve": {
 "scale": {"color":"independent","strokeDash":"independent","strokeWidth":"independent","fill":"independent","stroke":"independent"},
 "legend": {"color":"independent","strokeDash":"independent","strokeWidth":"independent","fill":"independent","stroke":"independent"}
},
"config": {
 "view": {"stroke": "#444", "strokeWidth": 1},
 "title": {"font": "Lato", "fontSize": 16, "fontWeight": 300, "color": "#000", "offset": 2},
 "axis": {"grid": false, "domain": false, "labelFont": "DejaVu Sans", "labelFontSize": 12, "labelColor": "#000", "labelFlush": false, "tickColor": "#333", "tickSize": 4, "titleFont": "Lato", "titleFontSize": 14, "titleFontWeight": "normal", "titleColor": "#000"},
 "axisY": {"titlePadding": 4},
 "axisX": {"titlePadding": 7}
}
}
